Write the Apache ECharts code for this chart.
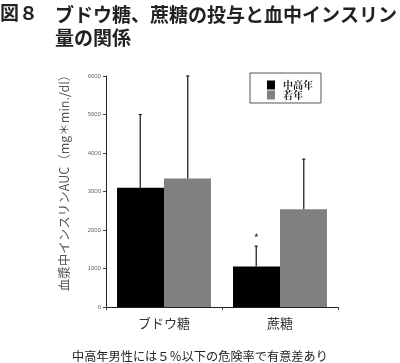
<!DOCTYPE html>
<html><head><meta charset="utf-8">
<script src="https://cdn.jsdelivr.net/npm/echarts@6/dist/echarts.min.js"></script>
<style>html,body{margin:0;padding:0;background:#fff}#c{width:400px;height:363px}</style>
</head><body><div id="c"></div>
<script>
const categories = ['ブドウ糖', '蔗糖'];
const seriesNames = ['中高年', '若年'];
const middleAged = [3100, 1050];
const middleAgedErrTop = [5000, 1580];
const young = [3340, 2540];
const youngErrTop = [6000, 3840];
const sigMarks = ['', '*'];
const yTicks = [0, 1000, 2000, 3000, 4000, 5000, 6000];

const chart = echarts.init(document.getElementById('c'));
const jp = '"Noto Sans CJK JP", sans-serif';
const OFF = 0.205;

function errSeries(name, vals, tops, sign, marks) {
  return {
    type: 'custom',
    name: name + '_err',
    silent: true,
    z: 5,
    data: vals.map((v, i) => [i, v, tops[i], marks ? marks[i] : '']),
    renderItem: function (params, api) {
      const i = api.value(0);
      const base = api.coord([i, api.value(1)]);
      const top = api.coord([i, api.value(2)]);
      const band = api.size([1, 0])[0];
      const x = base[0] + sign * OFF * band;
      const children = [
        { type: 'line', shape: { x1: x, y1: base[1], x2: x, y2: top[1] }, style: { stroke: '#111', lineWidth: 1.2 } },
        { type: 'line', shape: { x1: x - 1.5, y1: top[1], x2: x + 1.5, y2: top[1] }, style: { stroke: '#111', lineWidth: 1.2 } }
      ];
      const m = api.value(3);
      if (m) {
        children.push({ type: 'text', style: { text: m, x: x, y: top[1] - 3, align: 'center', verticalAlign: 'bottom', fontSize: 11, fill: '#222', fontFamily: jp } });
      }
      return { type: 'group', children: children };
    }
  };
}

chart.setOption({
  backgroundColor: '#ffffff',
  animation: false,
  title: [
    { text: '図８', left: 0, top: 3, padding: 0, textStyle: { fontFamily: jp, fontSize: 19, fontWeight: 'bold', color: '#222' } },
    { text: 'ブドウ糖、蔗糖の投与と血中インスリン\n量の関係', left: 55, top: 3, padding: 0, textStyle: { fontFamily: jp, fontSize: 19, fontWeight: 'bold', color: '#222', lineHeight: 23 } },
    { text: '中高年男性には５％以下の危険率で有意差あり', left: 72, top: 350, padding: 0, textStyle: { fontFamily: jp, fontSize: 12.2, fontWeight: 'normal', color: '#222' } }
  ],
  graphic: [
    { type: 'text', x: 64, y: 180, rotation: Math.PI / 2, style: { text: '血漿中インスリンAUC（mg＊min./dl）', align: 'center', verticalAlign: 'middle', fontFamily: jp, fontSize: 12.5, fill: '#555' } }
  ],
  legend: {
    data: seriesNames,
    orient: 'vertical',
    left: 250, top: 73,
    padding: [7, 8, 3, 17],
    itemWidth: 8, itemHeight: 9, itemGap: 0,
    borderColor: '#555', borderWidth: 1,
    textStyle: { fontFamily: '"Noto Serif CJK JP", "DejaVu Serif", serif', fontWeight: 'bold', fontSize: 10, lineHeight: 9, color: '#222', padding: [0, 0, 0, 3] },
    icon: 'rect'
  },
  grid: { left: 106, right: 62, top: 76, bottom: 56 },
  xAxis: {
    type: 'category',
    data: categories,
    axisLine: { lineStyle: { color: '#222', width: 1 } },
    axisTick: { show: true, length: 3, lineStyle: { color: '#444' } },
    axisLabel: { fontFamily: jp, fontSize: 13, color: '#333', margin: 10 }
  },
  yAxis: {
    type: 'value',
    min: 0, max: 6000, interval: 1000,
    axisLine: { show: true, lineStyle: { color: '#222', width: 1 } },
    axisTick: { show: true, length: 3, lineStyle: { color: '#444' } },
    axisLabel: { fontSize: 6, color: '#666', margin: 5, formatter: v => yTicks.includes(v) ? String(v) : '' },
    splitLine: { show: false }
  },
  series: [
    { name: seriesNames[0], type: 'bar', data: middleAged, barGap: '0%', barCategoryGap: '19%', itemStyle: { color: '#000000' } },
    { name: seriesNames[1], type: 'bar', data: young, itemStyle: { color: '#808080' } },
    errSeries(seriesNames[0], middleAged, middleAgedErrTop, -1, sigMarks),
    errSeries(seriesNames[1], young, youngErrTop, 1, null)
  ]
});
</script></body></html>
